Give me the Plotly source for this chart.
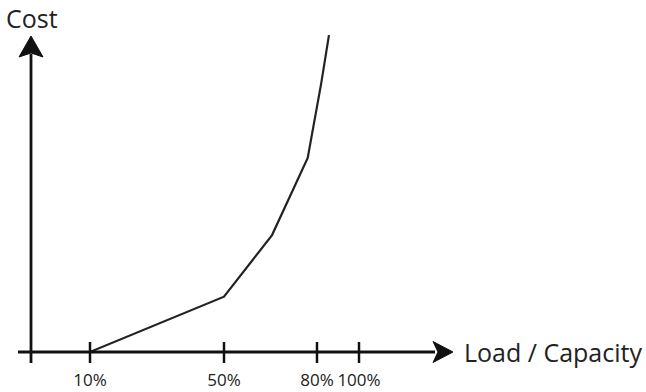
import numpy as np
import plotly.graph_objects as go

# ---- data ----
load_pct = [0, 10, 50, 65.5, 77, 82, 85.7]          # Load / Capacity (%)
cost_idx = [0, 0, 17.5, 37, 61.4, 85, 100.3]        # Cost (index, schematic)
tick_pct = [10, 50, 80, 100]
tick_text = ["10%", "50%", "80%", "100%"]

# schematic (non-linear) load axis: load % -> axis position
scale_pct = [0, 10, 50, 80, 100, 200]
scale_pos = [0, 59, 193, 286, 328, 538]

def to_pos(v):
    return np.interp(v, scale_pct, scale_pos)

W, H = 646, 392
MB = 24
ML, MR, MT = 0, 0, 0
x_range = [-31, 615]
px_per_cost = 3.16
base_px = 352                     # pixel row of the load axis
below = H - MB - base_px          # plot pixels below the load axis
y_range = [-below / px_per_cost, base_px / px_per_cost]
ux = 1.0                 # x units per pixel
uy = 1 / px_per_cost     # y units per pixel

x_end = 422 - 20         # where arrow head starts (x units)
y_top = 100              # arrow tip height (cost units)

AX = "#111111"
LINE = "#222222"
TXT = "#222222"
FONT = "Open Sans"

fig = go.Figure()
fig.add_trace(go.Scatter(
    x=to_pos(load_pct), y=cost_idx, mode="lines",
    line=dict(color=LINE, width=2.2), hoverinfo="skip", showlegend=False))

shapes = []
# x axis line
shapes.append(dict(type="line", xref="x", yref="y", x0=-13 * ux, x1=x_end + 2,
                   y0=0, y1=0, line=dict(color=AX, width=2.8)))
# y axis line
shapes.append(dict(type="line", xref="x", yref="y", x0=0, x1=0,
                   y0=-11 * uy, y1=y_top - 18 * uy, line=dict(color=AX, width=2.8)))
# arrow heads
tipx = x_end + 20
shapes.append(dict(type="path", xref="x", yref="y",
                   path=f"M {x_end} {10.5*uy} L {tipx} 0 L {x_end} {-10.5*uy} L {x_end+5} 0 Z",
                   fillcolor=AX, line=dict(color=AX, width=1)))
shapes.append(dict(type="path", xref="x", yref="y",
                   path=f"M {-12} {y_top-21*uy} L 0 {y_top} L 12 {y_top-21*uy} L 0 {y_top-17*uy} Z",
                   fillcolor=AX, line=dict(color=AX, width=1)))
# tick marks
for p in to_pos(tick_pct):
    shapes.append(dict(type="line", xref="x", yref="y", x0=p, x1=p,
                       y0=-11 * uy, y1=10 * uy, line=dict(color=AX, width=2.5)))

annotations = [
    dict(text="Cost", x=1, y=(base_px - 18) * uy, xref="x", yref="y",
         xanchor="center", yanchor="middle", showarrow=False,
         font=dict(family=FONT, size=25, color=TXT)),
    dict(text="Load / Capacity", x=tipx + 9, y=0, xref="x", yref="y",
         xanchor="left", yanchor="middle", showarrow=False,
         font=dict(family=FONT, size=25, color=TXT)),
]

fig.update_layout(
    width=W, height=H, margin=dict(l=ML, r=MR, t=MT, b=MB, autoexpand=False),
    paper_bgcolor="white", plot_bgcolor="white",
    shapes=shapes, annotations=annotations,
    xaxis=dict(range=x_range, showgrid=False, zeroline=False, showline=False,
               tickvals=list(to_pos(tick_pct)), ticktext=tick_text, ticks="",
               tickangle=0, automargin=False, ticklabelstandoff=0,
               tickfont=dict(family=FONT, size=17, color=TXT), fixedrange=True),
    yaxis=dict(range=y_range, showgrid=False, zeroline=False, showline=False,
               showticklabels=False, ticks="", fixedrange=True, automargin=False),
)

fig.write_html("out.html", config={"displayModeBar": False},
               post_script="document.body.style.margin='0';document.body.style.overflow='hidden';")
